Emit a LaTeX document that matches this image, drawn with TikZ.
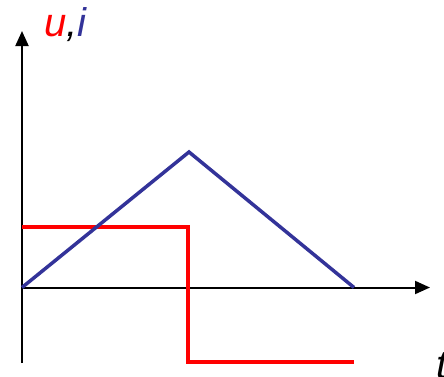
\documentclass[tikz,border=0pt]{standalone}
\usepackage{fontspec}
\setmainfont{Liberation Sans}
\usetikzlibrary{arrows.meta}
\definecolor{myblue}{RGB}{51,51,153}
\definecolor{myred}{RGB}{255,0,0}
\tikzset{
  axis/.style={line width=2pt,-{Triangle[length=15pt,width=13pt]}},
  ucurve/.style={myred,line width=4pt},
  icurve/.style={myblue,line width=3.5pt,line join=miter},
  lbl/.style={inner sep=0pt,font=\fontsize{40}{48}\selectfont\itshape}
}
\begin{document}
\begin{tikzpicture}[x=1pt,y=-1pt]
\useasboundingbox (0,0) rectangle (444,376);
\coordinate (O) at (22,287.5);
\coordinate (ybot) at (22,363);
\coordinate (ytop) at (22,31);
\coordinate (xend) at (430,287.5);
\coordinate (peak) at (189,152);
\coordinate (iend) at (354,287.5);
\coordinate (uA) at (22,227);
\coordinate (uB) at (188,227);
\coordinate (uC) at (188,362);
\coordinate (uD) at (354,362);
\draw[axis] (ybot) -- (ytop);
\draw[axis] (O) -- (xend);
\draw[ucurve] (uA) -- (uB) -- (uC) -- (uD);
\draw[icurve] (O) -- (peak) -- (iend);
\node[lbl,anchor=base west] (lab) at (44,36) {\textcolor{myred}{u},\textcolor{myblue}{i}};
\node[lbl,anchor=base west] (tl) at (436,378) {t};
\end{tikzpicture}
\end{document}
